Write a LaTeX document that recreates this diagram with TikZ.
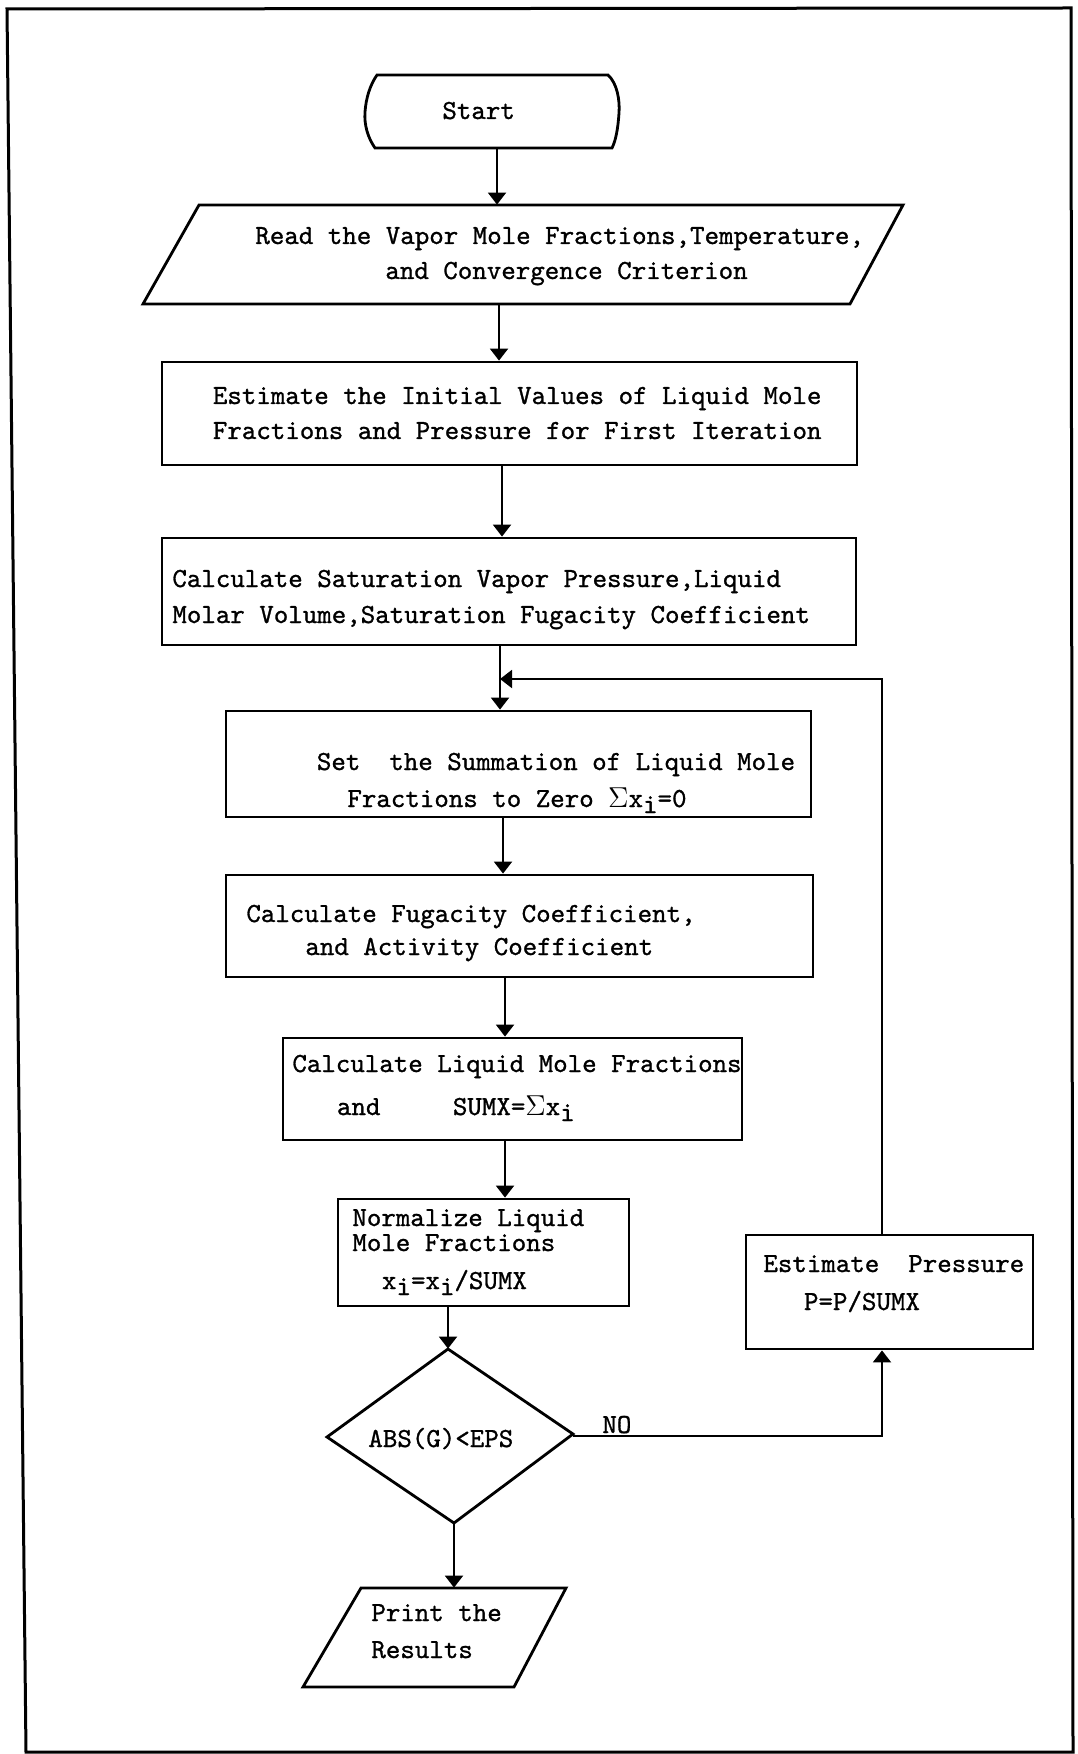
\documentclass[tikz,border=0pt]{standalone}
\usepackage{fontspec}
\newfontfamily\tw{lmmono10-regular}[Extension=.otf, FakeBold=1]
\usetikzlibrary{arrows.meta,fit}
\newcommand{\lowi}{\raisebox{-3pt}{i}}
\newcommand{\sig}{$\Sigma$}
\begin{document}
\begin{tikzpicture}[x=0.5pt,y=-0.5pt,
  outline/.style={line width=1.4pt, line join=miter},
  box/.style={draw, outline, rectangle, inner sep=0pt},
  hold/.style={rectangle, inner sep=0pt},
  txt/.style={anchor=base west, inner sep=0pt, font=\fontsize{13.8}{16}\selectfont\tw},
  arr/.style={line width=1pt, -{Triangle[width=9pt,length=6pt]}},
  frameline/.style={line width=1.5pt}]
\useasboundingbox (0,0) rectangle (1077,1754);
% outer frame
\draw[frameline] (7,9) -- (1071,8) -- (1073,1752) -- (26,1752) -- cycle;

% start terminal
\node[hold, fit={(365,75) (619,148)}] (start) {};
\draw[outline] (377,75) -- (608,75) .. controls (617,83) and (620,100) .. (619,113)
  .. controls (618,128) and (616,140) .. (612,148) -- (375,148)
  .. controls (368,138) and (364,125) .. (365,112)
  .. controls (366,98) and (370,85) .. (377,75) -- cycle;

% read parallelogram
\node[hold, fit={(143,205) (903,304)}] (read) {};
\draw[outline] (199,205) -- (903,205) -- (850,304) -- (143,304) -- cycle;

% process boxes
\node[box, fit={(162,362) (857,465)}] (est) {};
\node[box, fit={(162,538) (856,645)}] (calc) {};
\node[box, fit={(226,711) (811,817)}] (set) {};
\node[box, fit={(226,875) (813,977)}] (fug) {};
\node[box, fit={(283,1038) (742,1140)}] (liq) {};
\node[box, fit={(338,1199) (629,1306)}] (norm) {};
\node[box, fit={(746,1235) (1033,1349)}] (estp) {};

% decision diamond
\node[hold, fit={(327,1349) (573,1523)}] (dia) {};
\draw[outline] (448,1349) -- (573,1434) -- (454,1523) -- (327,1437) -- cycle;

% print parallelogram
\node[hold, fit={(303,1588) (566,1687)}] (print) {};
\draw[outline] (361,1588) -- (566,1588) -- (514,1687) -- (303,1687) -- cycle;

% texts
\node[txt] (t1) at (442,119) {Start};
\node[txt] (t2) at (255,244) {Read the Vapor Mole Fractions,Temperature,};
\node[txt] (t3) at (385,279) {and Convergence Criterion};
\node[txt] (t4) at (212.5,404) {Estimate the Initial Values of Liquid Mole};
\node[txt] (t5) at (212.5,439) {Fractions and Pressure for First Iteration};
\node[txt] (t6) at (172,587) {Calculate Saturation Vapor Pressure,Liquid};
\node[txt] (t7) at (172,623) {Molar Volume,Saturation Fugacity Coefficient};
\node[txt] (t8) at (316.5,770) {Set\ \ the Summation of Liquid Mole};
\node[txt] (t9) at (347,807) {Fractions to Zero \sig x\lowi=0};
\node[txt] (t10) at (246,922) {Calculate Fugacity Coefficient,};
\node[txt] (t11) at (305,955) {and Activity Coefficient};
\node[txt] (t12) at (292,1072) {Calculate Liquid Mole Fractions};
\node[txt] (t13) at (336.6,1115) {and\ \ \ \ \ SUMX=\sig x\lowi};
\node[txt] (t14) at (352,1226) {Normalize Liquid};
\node[txt] (t15) at (352,1251) {Mole Fractions};
\node[txt] (t16) at (381.6,1289) {x\lowi=x\lowi/SUMX};
\node[txt] (t17) at (368,1447) {ABS(G)<EPS};
\node[txt] (t18) at (602,1433) {NO};
\node[txt] (t19) at (763,1272) {Estimate\ \ Pressure};
\node[txt] (t20) at (803.6,1310) {P=P/SUMX};
\node[txt] (t21) at (371,1621) {Print the};
\node[txt] (t22) at (371,1658) {Results};

% connector x positions
\coordinate (c1) at (497,0);
\coordinate (c2) at (499,0);
\coordinate (c3) at (502,0);
\coordinate (c4) at (500,0);
\coordinate (c5) at (503,0);
\coordinate (c6) at (505,0);
\coordinate (c7) at (448,0);
\coordinate (c8) at (454,0);
\coordinate (c9) at (882,0);
\coordinate (j) at (500,679);

\draw[arr] (start.south -| c1) -- (read.north -| c1);
\draw[arr] (read.south -| c2) -- (est.north -| c2);
\draw[arr] (est.south -| c3) -- (calc.north -| c3);
\draw[arr] (calc.south -| c4) -- (set.north -| c4);
\draw[arr] (set.south -| c5) -- (fug.north -| c5);
\draw[arr] (fug.south -| c6) -- (liq.north -| c6);
\draw[arr] (liq.south -| c6) -- (norm.north -| c6);
\draw[arr] (norm.south -| c7) -- (dia.north -| c7);
\draw[arr] (dia.south -| c8) -- (print.north -| c8);
\draw[arr] (dia.east) -| (estp.south -| c9);
\draw[arr] (estp.north -| c9) |- (j);
\end{tikzpicture}
\end{document}
